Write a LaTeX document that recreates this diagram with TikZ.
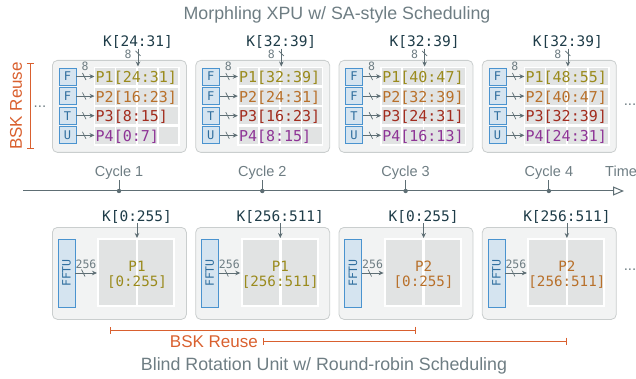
\documentclass[tikz,border=0pt]{standalone}
\usepackage{fontspec}
\setmainfont{Liberation Sans}
\setmonofont{DejaVu Sans Mono}
\usetikzlibrary{arrows.meta}
\definecolor{gtxt}{HTML}{6E7D83}
\definecolor{kcol}{HTML}{1E3C48}
\definecolor{boxfill}{HTML}{F2F3F3}
\definecolor{boxline}{HTML}{CACECE}
\definecolor{cellc}{HTML}{E1E3E3}
\definecolor{fblue}{HTML}{4A93CF}
\definecolor{flight}{HTML}{D5E4F0}
\definecolor{fdark}{HTML}{2F6E9E}
\definecolor{cpa}{HTML}{9A8A1C}
\definecolor{cpb}{HTML}{B8702A}
\definecolor{cpc}{HTML}{A22C1E}
\definecolor{cpd}{HTML}{8E3496}
\definecolor{bsk}{HTML}{D9602F}
\definecolor{axisc}{HTML}{5E6E74}
\tikzset{
  unitbox/.style={draw=boxline, fill=boxfill, rounded corners=5pt, line width=0.8pt, inner sep=0pt, anchor=north west},
  gridbg/.style={fill=white, inner sep=0pt, anchor=north west},
  cellbox/.style={fill=cellc, inner sep=0pt, anchor=north west},
  fbox/.style={draw=fblue, fill=flight, line width=0.8pt, minimum width=17pt, minimum height=17pt, inner sep=0pt, text=fdark, font=\ttfamily\fontsize{12}{12}\selectfont},
  fftu/.style={draw=fblue, fill=flight, line width=0.8pt, rotate=90, minimum width=68pt, minimum height=17pt, inner sep=0pt, text=fdark, font=\ttfamily\fontsize{11.5}{12}\selectfont},
  ptxt/.style={font=\ttfamily\fontsize{15}{16}\selectfont, inner sep=1pt},
  bigtxt/.style={font=\ttfamily\fontsize{14.2}{16}\selectfont, inner sep=0pt, anchor=base},
  klabel/.style={font=\ttfamily\fontsize{14.5}{16}\selectfont, text=kcol, inner sep=0pt, anchor=base},
  small/.style={font=\ttfamily\fontsize{11.5}{12}\selectfont, text=gtxt, inner sep=0pt, anchor=base},
  arr/.style={draw=axisc, line width=0.8pt, -{Stealth[length=5pt, width=4.5pt]}},
  slashl/.style={draw=axisc, line width=0.7pt},
  axisline/.style={draw=axisc, line width=1pt},
  cyc/.style={font=\fontsize{14.5}{16}\selectfont, text=gtxt, inner sep=0pt, anchor=base},
  titletxt/.style={font=\fontsize{17.8}{20}\selectfont, text=gtxt, inner sep=0pt, anchor=base},
  bsktxt/.style={font=\fontsize{17}{20}\selectfont, text=bsk, inner sep=0pt},
  bskline/.style={draw=bsk, line width=1pt, {Bar[width=7pt]}-{Bar[width=7pt]}},
  dotstxt/.style={font=\fontsize{15}{16}\selectfont, text=gtxt, inner sep=0pt}
}
\begin{document}
\begin{tikzpicture}[x=1pt,y=-1pt]
\useasboundingbox (0,0) rectangle (636,379);

% titles
\node[titletxt] (title1) at (337,20) {Morphling XPU w/ SA-style Scheduling};
\node[titletxt] (title2) at (324,370) {Blind Rotation Unit w/ Round-robin Scheduling};

% top boxes
\foreach \i/\k/\pa/\pb/\pc/\pd in {1/24:31/24:31/16:23/8:15/0:7, 2/32:39/32:39/24:31/16:23/8:15, 3/32:39/40:47/32:39/24:31/16:13, 4/32:39/48:55/40:47/32:39/24:31}{
  \pgfmathsetmacro{\L}{52+143.3*(\i-1)}
  \node[unitbox, minimum width=134pt, minimum height=92pt] (tb\i) at (\L,60) {};
  \node[gridbg, minimum width=86pt, minimum height=79pt] (tg\i) at (\L+41.5,66.5) {};
  \foreach \r in {0,...,3}{
    \foreach \cc in {0,...,3}{
      \node[cellbox, minimum width=19.6pt, minimum height=17pt] (tc\i\r\cc) at (\L+43+21.2*\cc, 68+19.6*\r) {};
    }
  }
  \foreach \r/\col/\txt/\lt in {0/cpa/{P1[\pa]}/F, 1/cpb/{P2[\pb]}/F, 2/cpc/{P3[\pc]}/T, 3/cpd/{P4[\pd]}/U}{
    \node[fbox] (f\i\r) at (\L+15.5, 76.5+19.6*\r) {\lt};
    \node[ptxt, text=\col, anchor=base west] (p\i\r) at (\L+42.5, 82.5+19.6*\r) {\txt};
    \draw[arr] (f\i\r.east) -- (f\i\r.east -| p\i\r.west);
    \draw[slashl] (\L+30.5, 73+19.6*\r) -- (\L+34, 80+19.6*\r);
  }
  \node[small] (e\i) at (\L+33, 71) {8};
  \node[klabel] (k\i) at (\L+86, 46.5) {K[\k]};
  \draw[arr] (k\i.south) -- (k\i.south |- tg\i.north);
  \draw[slashl] (\L+83.5, 51) -- (\L+88.5, 56);
  \node[small] (ek\i) at (\L+76, 58.5) {8};
}

% dots
\node[dotstxt] (dl) at (40,107) {...};
\node[dotstxt] (dr) at (630,105) {...};
\node[dotstxt] (dbr) at (630,270) {...};

% left BSK reuse
\coordinate (bl1) at (30,63);
\coordinate (bl2) at (30,149);
\draw[bskline] (bl1) -- (bl2);
\node[bsktxt, rotate=90] (bsk1) at (16,106) {BSK Reuse};

% timeline
\coordinate (ta) at (23,191);
\coordinate (tbb) at (624,191);
\draw[axisline, -{Triangle[open, length=11pt, width=9pt]}] (ta) -- (tbb);
\foreach \i in {1,...,4}{
  \pgfmathsetmacro{\X}{119+143.3*(\i-1)}
  \coordinate (tk\i) at (\X,191);
  \coordinate (tt\i) at (\X,180);
  \node[cyc] (cy\i) at (\X,176.5) {Cycle \i};
  \draw[axisline] (tk\i) -- (tt\i);
  \fill[axisc] (tk\i) circle (2.2);
}
\node[cyc, anchor=base west] (time) at (605,176.5) {Time};

% bottom boxes
\foreach \i/\k/\p/\rng/\col in {1/0:255/P1/0:255/cpa, 2/256:511/P1/256:511/cpa, 3/0:255/P2/0:255/cpb, 4/256:511/P2/256:511/cpb}{
  \pgfmathsetmacro{\L}{52+143.3*(\i-1)}
  \node[unitbox, minimum width=134pt, minimum height=92pt] (bb\i) at (\L,227) {};
  \node[gridbg, minimum width=78pt, minimum height=69pt] (bg\i) at (\L+45,238) {};
  \node[cellbox, minimum width=36.5pt, minimum height=65pt] (bca\i) at (\L+47,240) {};
  \node[cellbox, minimum width=35pt, minimum height=65pt] (bcb\i) at (\L+86,240) {};
  \node[fftu] (u\i) at (\L+14.5, 273) {FFTU};
  \node[bigtxt, text=\col] (bp\i) at (\L+85, 271) {\p};
  \node[bigtxt, text=\col] (br\i) at (\L+85, 286.5) {[\rng]};
  \node[klabel] (bk\i) at (\L+85, 221) {K[\k]};
  \draw[arr] (bk\i.south) -- (bk\i.south |- bg\i.north);
  \draw[arr] (u\i.south) -- (u\i.south -| bg\i.west);
  \draw[slashl] (\L+29.5, 269.5) -- (\L+33, 276.5);
  \node[small] (bn\i) at (\L+34, 268) {256};
}

% bottom BSK reuse
\coordinate (r1a) at (110,330);
\coordinate (r1b) at (416,330);
\coordinate (r2a) at (263,341);
\coordinate (r2b) at (567,341);
\draw[bskline] (r1a) -- (r1b);
\draw[bskline] (r2a) -- (r2b);
\node[bsktxt, anchor=base east] (bsk2) at (258,347) {BSK Reuse};
\end{tikzpicture}
\end{document}
